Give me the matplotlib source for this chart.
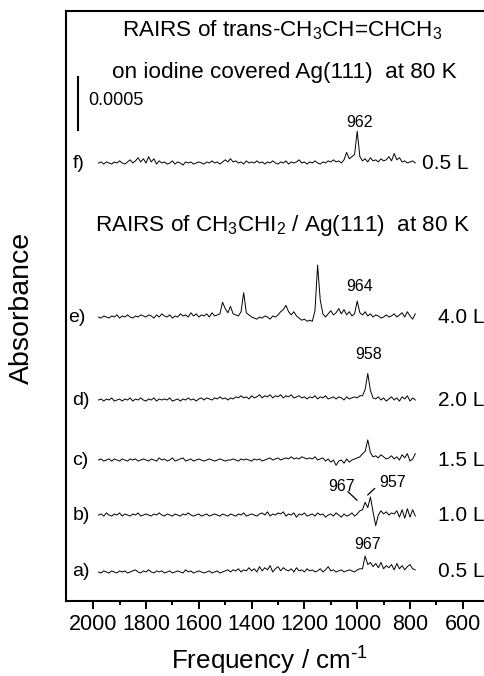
import numpy as np
import matplotlib
matplotlib.use("Agg")
import matplotlib.pyplot as plt

plt.rcParams['font.family'] = ['Liberation Sans', 'DejaVu Sans']
plt.rcParams['mathtext.default'] = 'regular'

# wavenumber grid of the traces (as plotted on the axis), cm-1
freq = np.arange(1980, 779, -10)

# absorbance traces, units of 1e-5, from 1980 down to 780 cm-1
trace_f = [0, 1, -1, 1, 0, -1, 1, 0, 2, 0,
           -1, 1, 3, 0, 2, 5, 1, 4, 0, 6,
           1, 4, -1, 2, 0, 1, -1, 0, 2, -1,
           1, 0, -2, 1, 0, 1, -1, 0, 1, 0,
           -1, 1, 0, 2, 0, 1, -1, 1, 3, 1,
           4, 1, 2, 0, 1, -1, 2, 0, 1, 0,
           2, 0, 1, -1, 1, 0, 2, 0, -1, 1,
           0, 2, -1, 1, 0, 1, 3, 0, 1, -1,
           1, 0, 2, 0, -1, 1, 0, 2, 1, 3,
           1, 2, 0, 3, 10, 4, 6, 8, 30, 6,
           2, 4, 1, 5, 2, 3, 1, 4, 2, 3,
           6, 2, 9, 3, 5, 1, 2, 0, 1, 2,
           0]
trace_e = [0, -1, 1, 0, -1, 1, 0, 2, -1, 1,
           0, 2, 0, -1, 1, 0, 2, 1, 0, 2,
           1, -1, 2, 0, 3, 1, 0, 2, -1, 1,
           0, 3, 1, 2, 0, 4, 1, 3, 0, 2,
           1, 3, 0, 4, 1, 2, 3, 14, 8, 4,
           10, 3, 2, 1, 5, 23, 4, 2, 0, -1,
           -2, 0, -1, 1, 0, -2, 1, 0, 2, 5,
           7, 11, 5, 2, 5, 1, -1, -3, -2, -4,
           -3, -4, 6, 49, 16, 3, 0, 3, 6, 2,
           4, 8, 3, 7, 2, 5, 1, 3, 15, 4,
           2, 5, 1, 3, 0, 2, 1, -1, 0, 2,
           0, 1, 3, 0, 2, 4, 0, 5, 1, -2,
           3]
trace_d = [0, 1, -1, 1, 0, 2, -1, 0, 1, -1,
           1, 0, 2, -1, 1, 0, 2, 0, -1, 1,
           0, 2, -1, 1, 0, 1, 0, 2, -1, 0,
           1, -1, 1, 0, 2, 0, 1, -1, 1, 2,
           0, 2, 1, 0, 2, 1, 3, 1, 2, 0,
           2, 1, 3, 2, 4, 2, 3, 1, 4, 2,
           3, 5, 2, 4, 3, 5, 2, 4, 3, 5,
           2, 4, 3, 5, 2, 3, 4, 2, 3, 1,
           3, 2, 4, 1, 3, 2, 4, 1, 2, 3,
           1, 3, 2, 0, 3, 1, 2, 3, 2, 4,
           4, 10, 25, 9, 2, 1, 3, 0, 2, -1,
           1, 3, 0, 2, -1, 3, 1, 4, -1, 2,
           0]
trace_c = [0, 1, -1, 0, 1, -1, 1, 0, -1, 1,
           0, -1, 1, 0, 1, -1, 0, 1, 0, -1,
           1, 0, -1, 2, 0, 1, -1, 0, 2, -1,
           0, 1, 2, -1, 0, 1, -1, 0, 1, 0,
           -1, 0, 1, 0, -1, 0, 1, 0, -1, 0,
           0, 1, 0, -1, 1, 0, 1, 0, -1, 1,
           0, 1, -1, 0, 1, 2, 0, 1, 2, 0,
           1, 2, 1, 3, 1, 2, 1, 3, 2, 1,
           2, 1, 3, 0, 1, 2, -1, 1, -2, 0,
           -5, -1, 0, -3, 1, -2, 0, 1, 2, 3,
           6, 8, 19, 7, 3, 4, 2, 5, 3, 1,
           2, 4, 1, 3, 0, 5, 2, 6, -1, 1,
           6]
trace_b = [0, 1, -1, 2, 0, -1, 1, 0, 2, -1,
           1, 0, -1, 1, 0, 2, -1, 0, 1, 0,
           -1, 1, 0, 2, 0, -1, 1, 0, -1, 1,
           0, -1, 1, 0, 2, 0, -1, 0, 1, -1,
           0, 1, -1, 0, 1, 0, -1, 1, 0, -1,
           1, 0, -1, 1, 0, 2, -1, 0, 1, 0,
           -1, 1, 2, 0, 3, -1, 1, 0, 2, 1,
           3, -1, 1, 0, 2, -2, 1, 0, 2, -1,
           0, 1, -1, 2, 0, 1, -2, 0, 1, -1,
           2, 0, -2, 1, -1, 0, 2, -1, 1, 4,
           5, 12, 7, 17, 3, -10, 0, 4, 1, 3,
           0, 2, 1, 4, -2, 5, -3, 6, -2, 5,
           -1]
trace_a = [0, -1, 1, 0, -1, 1, 0, -1, 1, 0,
           1, -1, 0, 1, 2, 0, -1, 1, 0, 2,
           0, -1, 1, 0, 1, -1, 0, 1, -1, 0,
           1, 0, -1, 2, 0, 1, -1, 0, 1, 0,
           -1, 0, 1, -1, 0, 1, -1, 0, 1, 2,
           0, 2, 1, 3, 0, 2, 1, 4, 1, 3,
           0, 5, 1, 4, 2, 6, 0, 3, 5, 1,
           4, 2, 1, 3, 0, 4, 1, 2, 0, 3,
           1, 2, 0, 1, 3, 0, 2, 5, 1, 2,
           0, 1, 2, 0, 1, 2, 1, 0, 2, 3,
           3, 15, 7, 9, 5, 8, 4, 9, 3, 6,
           4, 7, 2, 8, 3, 6, 2, 5, 7, 3,
           2]

traces = [trace_a, trace_b, trace_c, trace_d, trace_e, trace_f]
letters = ['a)', 'b)', 'c)', 'd)', 'e)', 'f)']
doses = ['0.5 L', '1.0 L', '1.5 L', '2.0 L', '4.0 L', '0.5 L']
offsets = [0.000274, 0.000811, 0.00133, 0.001896, 0.002679, 0.004132]

fig = plt.figure(figsize=(4.85, 6.76), dpi=100)
ax = fig.add_axes([66 / 485, 75 / 676, 1 - 66 / 485, 590 / 676])

for y, off in zip(traces, offsets):
    ax.plot(freq, np.array(y) * 1e-5 + off, color='black', lw=0.7)

for lab, dose, off in zip(letters, doses, offsets):
    ax.text(2095 if lab == 'e)' else 2078, off, lab, fontsize=14,
            va='center', ha='left')
    ax.text(754 if lab == 'f)' else 694, off, dose, fontsize=15,
            va='center', ha='left')

# peak labels
pk = dict(fontsize=11.5, ha='center', va='center')
ax.text(990, offsets[5] + 38e-5, '962', **pk)
ax.text(990, offsets[4] + 29e-5, '964', **pk)
ax.text(956, offsets[3] + 43e-5, '958', **pk)
ax.text(1058, offsets[1] + 27e-5, '967', **pk)
ax.text(865, offsets[1] + 31e-5, '957', **pk)
ax.text(960, offsets[0] + 26e-5, '967', **pk)
ax.plot([1035, 1001], [offsets[1] + 22e-5, offsets[1] + 14e-5], color='black', lw=0.9)
ax.plot([934, 960], [offsets[1] + 25e-5, offsets[1] + 19e-5], color='black', lw=0.9)

# scale bar
ax.plot([2058, 2058], [0.00444, 0.00494], color='black', lw=1.5)
ax.text(2020, 0.00472, '0.0005', fontsize=13, ha='left', va='center')

ax.text(0.516, 0.968, 'RAIRS of trans-CH$_3$CH=CHCH$_3$', transform=ax.transAxes,
        fontsize=16.2, ha='center', va='center')
ax.text(0.521, 0.895, 'on iodine covered Ag(111)  at 80 K', transform=ax.transAxes,
        fontsize=16.2, ha='center', va='center')
ax.text(0.516, 0.637, 'RAIRS of CH$_3$CHI$_2$ / Ag(111)  at 80 K', transform=ax.transAxes,
        fontsize=16.2, ha='center', va='center')

ax.set_xlim(2103, 516)
ax.set_ylim(0, 0.005566)
ax.set_xticks([2000, 1800, 1600, 1400, 1200, 1000, 800, 600])
ax.set_xticks(np.arange(1900, 600, -200), minor=True)
ax.set_yticks([])
ax.tick_params(axis='x', which='major', direction='out', length=6, width=1.4,
               labelsize=15.5, pad=3)
ax.tick_params(axis='x', which='minor', direction='out', length=3, width=1.4)
ax.spines['right'].set_visible(False)
for s in ['left', 'bottom', 'top']:
    ax.spines[s].set_linewidth(1.5)

fig.text(270 / 485, 1 - 661 / 676, r'Frequency / cm$^{\text{-}1}$', fontsize=18.7,
         ha='center', va='center')
fig.text(22 / 485, 1 - 308 / 676, 'Absorbance', fontsize=20.5, rotation=90,
         ha='center', va='center')

fig.savefig('out.png', dpi=100)
